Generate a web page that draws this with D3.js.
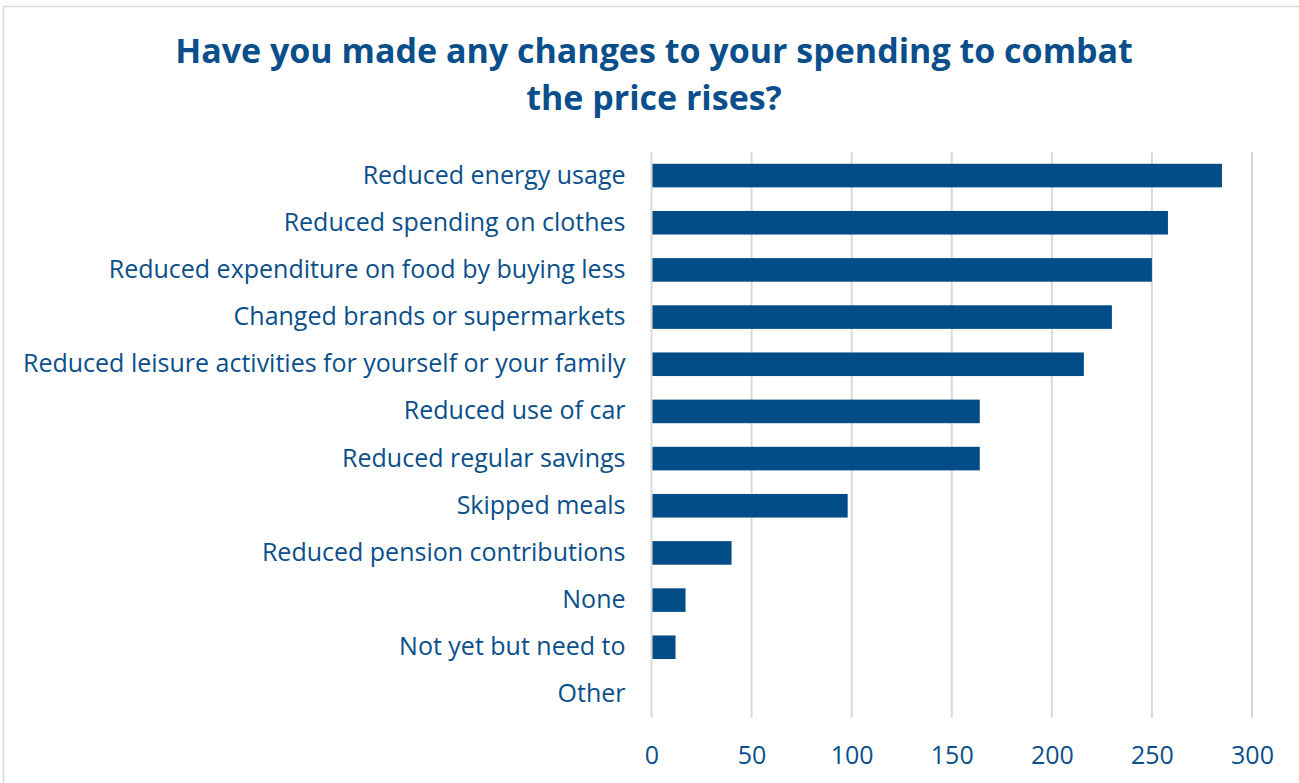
<!DOCTYPE html>
<html>
<head>
<meta charset="utf-8">
<script src="https://cdn.jsdelivr.net/npm/d3@7"></script>
<style>
  html, body { margin: 0; padding: 0; background: #ffffff; }
  svg { display: block; font-family: "Open Sans", "Noto Sans", sans-serif; }
</style>
</head>
<body>
<svg id="chart" width="1299" height="783"></svg>
<script>
// Survey responses: number of people reporting each change
const categories = [
  "Reduced energy usage",
  "Reduced spending on clothes",
  "Reduced expenditure on food by buying less",
  "Changed brands or supermarkets",
  "Reduced leisure activities for yourself or your family",
  "Reduced use of car",
  "Reduced regular savings",
  "Skipped meals",
  "Reduced pension contributions",
  "None",
  "Not yet but need to",
  "Other"
];
const counts = [285, 258, 250, 230, 216, 164, 164, 98, 40, 17, 12, 0];
const tickValues = [0, 50, 100, 150, 200, 250, 300];
const titleLines = [
  "Have you made any changes to your spending to combat",
  "the price rises?"
];

const blue = "#024c88";
const textBlue = "#0a4f8b";
const gridGrey = "#d9d9d9";

const svg = d3.select("#chart");

// Outer frame of the chart area
svg.append("rect")
  .attr("x", 3.5).attr("y", 6.5)
  .attr("width", 1400).attr("height", 900)
  .attr("fill", "none")
  .attr("stroke", gridGrey)
  .attr("stroke-width", 1.5);

// Title
svg.append("g")
  .selectAll("text")
  .data(titleLines)
  .join("text")
  .attr("x", 654)
  .attr("y", (d, i) => 63 + i * 47)
  .attr("text-anchor", "middle")
  .attr("fill", textBlue)
  .attr("font-weight", 700)
  .attr("font-size", 34)
  .text(d => d);

const plot = { left: 651.5, right: 1252, top: 152, bottom: 718 };

const x = d3.scaleLinear()
  .domain([0, 300])
  .range([plot.left, plot.right]);

const y = d3.scaleBand()
  .domain(categories)
  .range([plot.top, plot.bottom])
  .paddingInner(0.5)
  .paddingOuter(0.25);

// Vertical gridlines
svg.append("g")
  .selectAll("line")
  .data(tickValues)
  .join("line")
  .attr("x1", d => x(d)).attr("x2", d => x(d))
  .attr("y1", plot.top).attr("y2", plot.bottom)
  .attr("stroke", gridGrey)
  .attr("stroke-width", 2);

// Bars
svg.append("g")
  .selectAll("rect")
  .data(categories)
  .join("rect")
  .attr("x", x(0) + 1)
  .attr("y", d => y(d))
  .attr("width", (d, i) => Math.max(0, x(counts[i]) - x(0) - 1))
  .attr("height", y.bandwidth())
  .attr("fill", blue);

// Category labels
const yAxis = d3.axisLeft(y).tickSize(0).tickPadding(0);
const gy = svg.append("g")
  .attr("transform", `translate(${plot.left - 26},0)`)
  .call(yAxis);
gy.select(".domain").remove();
gy.selectAll("text")
  .attr("fill", textBlue)
  .attr("font-size", 25)
  .attr("font-family", "'Open Sans', 'Noto Sans', sans-serif");

// Value axis labels
const xAxis = d3.axisBottom(x).tickValues(tickValues).tickSize(0).tickPadding(0);
const gx = svg.append("g")
  .attr("transform", `translate(0,${plot.bottom + 28})`)
  .call(xAxis);
gx.select(".domain").remove();
gx.selectAll("text")
  .attr("fill", textBlue)
  .attr("font-size", 25)
  .attr("font-family", "'Open Sans', 'Noto Sans', sans-serif");
</script>
</body>
</html>
